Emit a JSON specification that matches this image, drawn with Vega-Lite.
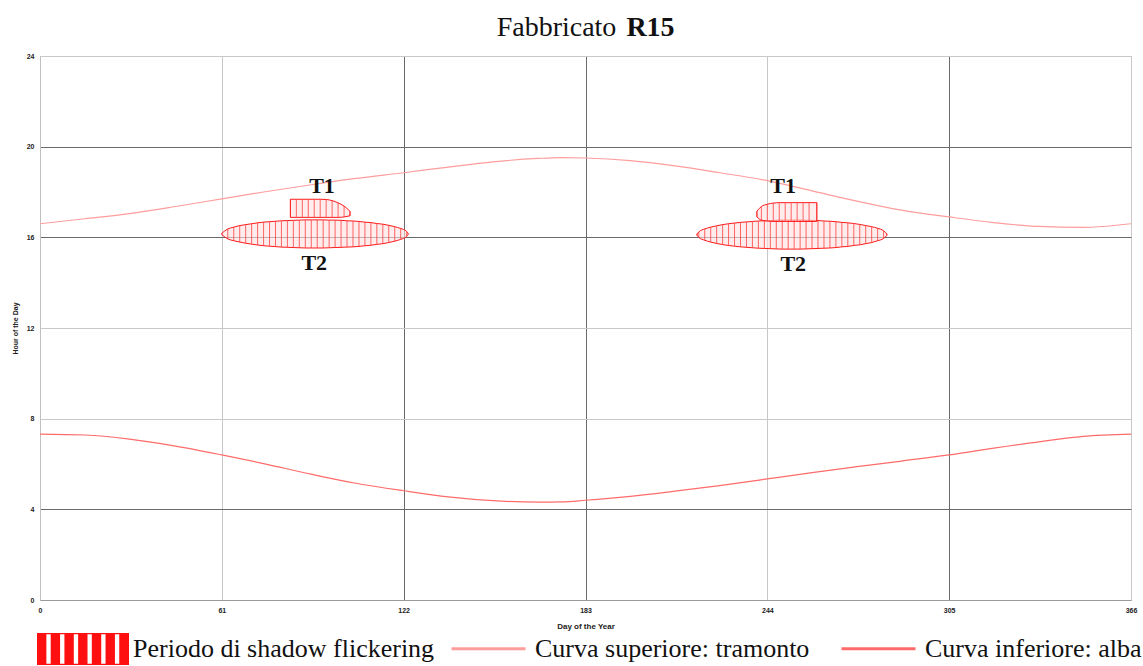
{
  "$schema": "https://vega.github.io/schema/vega-lite/v6.json",
  "width": 1091,
  "height": 544,
  "autosize": "none",
  "padding": {"left": 40, "top": 56, "right": 12, "bottom": 66},
  "background": "white",
  "title": {"text": "Fabbricato", "anchor": "middle", "frame": "group", "dx": -29, "font": "Liberation Serif", "fontSize": 28, "fontWeight": "normal", "color": "#111111", "baseline": "alphabetic", "offset": -51},
  "config": {
    "view": {"stroke": "#a8a8a8", "strokeWidth": 1},
    "legend": {"padding": 0, "titlePadding": 0}
  },
  "datasets": {
    "flicker": [
      {"shape": "L-T2", "day": 61, "start": 16.12, "end": 16.18},
      {"shape": "L-T2", "day": 63, "start": 15.93, "end": 16.37},
      {"shape": "L-T2", "day": 65, "start": 15.85, "end": 16.45},
      {"shape": "L-T2", "day": 67, "start": 15.79, "end": 16.52},
      {"shape": "L-T2", "day": 69, "start": 15.74, "end": 16.56},
      {"shape": "L-T2", "day": 71, "start": 15.70, "end": 16.60},
      {"shape": "L-T2", "day": 73, "start": 15.66, "end": 16.64},
      {"shape": "L-T2", "day": 75, "start": 15.63, "end": 16.67},
      {"shape": "L-T2", "day": 77, "start": 15.61, "end": 16.69},
      {"shape": "L-T2", "day": 79, "start": 15.59, "end": 16.71},
      {"shape": "L-T2", "day": 81, "start": 15.57, "end": 16.73},
      {"shape": "L-T2", "day": 83, "start": 15.56, "end": 16.74},
      {"shape": "L-T2", "day": 85, "start": 15.55, "end": 16.75},
      {"shape": "L-T2", "day": 87, "start": 15.54, "end": 16.76},
      {"shape": "L-T2", "day": 89, "start": 15.53, "end": 16.77},
      {"shape": "L-T2", "day": 91, "start": 15.53, "end": 16.77},
      {"shape": "L-T2", "day": 93, "start": 15.53, "end": 16.77},
      {"shape": "L-T2", "day": 95, "start": 15.53, "end": 16.77},
      {"shape": "L-T2", "day": 97, "start": 15.54, "end": 16.76},
      {"shape": "L-T2", "day": 99, "start": 15.55, "end": 16.76},
      {"shape": "L-T2", "day": 101, "start": 15.56, "end": 16.75},
      {"shape": "L-T2", "day": 103, "start": 15.57, "end": 16.73},
      {"shape": "L-T2", "day": 105, "start": 15.58, "end": 16.72},
      {"shape": "L-T2", "day": 107, "start": 15.60, "end": 16.70},
      {"shape": "L-T2", "day": 109, "start": 15.63, "end": 16.67},
      {"shape": "L-T2", "day": 111, "start": 15.65, "end": 16.65},
      {"shape": "L-T2", "day": 113, "start": 15.69, "end": 16.61},
      {"shape": "L-T2", "day": 115, "start": 15.72, "end": 16.58},
      {"shape": "L-T2", "day": 117, "start": 15.77, "end": 16.53},
      {"shape": "L-T2", "day": 119, "start": 15.83, "end": 16.47},
      {"shape": "L-T2", "day": 121, "start": 15.91, "end": 16.39},
      {"shape": "L-T2", "day": 123, "start": 16.04, "end": 16.26},
      {"shape": "L-T2", "day": 123.5, "start": 16.13, "end": 16.17},
      {"shape": "L-T1", "day": 84, "start": 16.88, "end": 17.68},
      {"shape": "L-T1", "day": 86, "start": 16.88, "end": 17.68},
      {"shape": "L-T1", "day": 88, "start": 16.88, "end": 17.68},
      {"shape": "L-T1", "day": 90, "start": 16.88, "end": 17.68},
      {"shape": "L-T1", "day": 92, "start": 16.88, "end": 17.68},
      {"shape": "L-T1", "day": 94, "start": 16.88, "end": 17.68},
      {"shape": "L-T1", "day": 96, "start": 16.88, "end": 17.67},
      {"shape": "L-T1", "day": 98, "start": 16.88, "end": 17.62},
      {"shape": "L-T1", "day": 100, "start": 16.88, "end": 17.52},
      {"shape": "L-T1", "day": 102, "start": 16.90, "end": 17.38},
      {"shape": "L-T1", "day": 104, "start": 16.95, "end": 17.15},
      {"shape": "R-T2", "day": 220.4, "start": 16.09, "end": 16.15},
      {"shape": "R-T2", "day": 221, "start": 16.00, "end": 16.24},
      {"shape": "R-T2", "day": 223, "start": 15.87, "end": 16.37},
      {"shape": "R-T2", "day": 225, "start": 15.79, "end": 16.45},
      {"shape": "R-T2", "day": 227, "start": 15.73, "end": 16.51},
      {"shape": "R-T2", "day": 229, "start": 15.68, "end": 16.56},
      {"shape": "R-T2", "day": 231, "start": 15.64, "end": 16.60},
      {"shape": "R-T2", "day": 233, "start": 15.61, "end": 16.63},
      {"shape": "R-T2", "day": 235, "start": 15.58, "end": 16.66},
      {"shape": "R-T2", "day": 237, "start": 15.56, "end": 16.68},
      {"shape": "R-T2", "day": 239, "start": 15.54, "end": 16.70},
      {"shape": "R-T2", "day": 241, "start": 15.52, "end": 16.72},
      {"shape": "R-T2", "day": 243, "start": 15.51, "end": 16.73},
      {"shape": "R-T2", "day": 245, "start": 15.50, "end": 16.74},
      {"shape": "R-T2", "day": 247, "start": 15.49, "end": 16.75},
      {"shape": "R-T2", "day": 249, "start": 15.48, "end": 16.76},
      {"shape": "R-T2", "day": 251, "start": 15.48, "end": 16.76},
      {"shape": "R-T2", "day": 253, "start": 15.48, "end": 16.76},
      {"shape": "R-T2", "day": 255, "start": 15.48, "end": 16.76},
      {"shape": "R-T2", "day": 257, "start": 15.49, "end": 16.75},
      {"shape": "R-T2", "day": 259, "start": 15.50, "end": 16.75},
      {"shape": "R-T2", "day": 261, "start": 15.51, "end": 16.74},
      {"shape": "R-T2", "day": 263, "start": 15.52, "end": 16.72},
      {"shape": "R-T2", "day": 265, "start": 15.53, "end": 16.71},
      {"shape": "R-T2", "day": 267, "start": 15.55, "end": 16.69},
      {"shape": "R-T2", "day": 269, "start": 15.58, "end": 16.66},
      {"shape": "R-T2", "day": 271, "start": 15.60, "end": 16.64},
      {"shape": "R-T2", "day": 273, "start": 15.64, "end": 16.61},
      {"shape": "R-T2", "day": 275, "start": 15.67, "end": 16.57},
      {"shape": "R-T2", "day": 277, "start": 15.72, "end": 16.52},
      {"shape": "R-T2", "day": 279, "start": 15.77, "end": 16.47},
      {"shape": "R-T2", "day": 281, "start": 15.85, "end": 16.40},
      {"shape": "R-T2", "day": 283, "start": 15.95, "end": 16.29},
      {"shape": "R-T2", "day": 284.1, "start": 16.09, "end": 16.15},
      {"shape": "R-T1", "day": 240.5, "start": 16.90, "end": 17.15},
      {"shape": "R-T1", "day": 242, "start": 16.76, "end": 17.36},
      {"shape": "R-T1", "day": 244, "start": 16.72, "end": 17.46},
      {"shape": "R-T1", "day": 246, "start": 16.70, "end": 17.51},
      {"shape": "R-T1", "day": 248, "start": 16.70, "end": 17.53},
      {"shape": "R-T1", "day": 250, "start": 16.70, "end": 17.53},
      {"shape": "R-T1", "day": 252, "start": 16.70, "end": 17.53},
      {"shape": "R-T1", "day": 254, "start": 16.70, "end": 17.53},
      {"shape": "R-T1", "day": 256, "start": 16.70, "end": 17.53},
      {"shape": "R-T1", "day": 258, "start": 16.70, "end": 17.53},
      {"shape": "R-T1", "day": 260.6, "start": 16.70, "end": 17.53}
    ],
    "curves": [
      {"curve": "Curva superiore: tramonto", "day": 0, "hour": 16.6},
      {"curve": "Curva superiore: tramonto", "day": 15, "hour": 16.82},
      {"curve": "Curva superiore: tramonto", "day": 30, "hour": 17.05},
      {"curve": "Curva superiore: tramonto", "day": 45, "hour": 17.35},
      {"curve": "Curva superiore: tramonto", "day": 61, "hour": 17.7},
      {"curve": "Curva superiore: tramonto", "day": 75, "hour": 18.0},
      {"curve": "Curva superiore: tramonto", "day": 91, "hour": 18.32},
      {"curve": "Curva superiore: tramonto", "day": 106, "hour": 18.6},
      {"curve": "Curva superiore: tramonto", "day": 122, "hour": 18.85},
      {"curve": "Curva superiore: tramonto", "day": 137, "hour": 19.1},
      {"curve": "Curva superiore: tramonto", "day": 152, "hour": 19.33},
      {"curve": "Curva superiore: tramonto", "day": 167, "hour": 19.48},
      {"curve": "Curva superiore: tramonto", "day": 175, "hour": 19.52},
      {"curve": "Curva superiore: tramonto", "day": 183, "hour": 19.5},
      {"curve": "Curva superiore: tramonto", "day": 198, "hour": 19.38},
      {"curve": "Curva superiore: tramonto", "day": 213, "hour": 19.15},
      {"curve": "Curva superiore: tramonto", "day": 228, "hour": 18.85},
      {"curve": "Curva superiore: tramonto", "day": 244, "hour": 18.5},
      {"curve": "Curva superiore: tramonto", "day": 259, "hour": 18.05},
      {"curve": "Curva superiore: tramonto", "day": 274, "hour": 17.6},
      {"curve": "Curva superiore: tramonto", "day": 289, "hour": 17.2},
      {"curve": "Curva superiore: tramonto", "day": 305, "hour": 16.9},
      {"curve": "Curva superiore: tramonto", "day": 320, "hour": 16.65},
      {"curve": "Curva superiore: tramonto", "day": 335, "hour": 16.48},
      {"curve": "Curva superiore: tramonto", "day": 350, "hour": 16.44},
      {"curve": "Curva superiore: tramonto", "day": 366, "hour": 16.6},
      {"curve": "Curva inferiore: alba", "day": 0, "hour": 7.32},
      {"curve": "Curva inferiore: alba", "day": 15, "hour": 7.28},
      {"curve": "Curva inferiore: alba", "day": 30, "hour": 7.1},
      {"curve": "Curva inferiore: alba", "day": 45, "hour": 6.8},
      {"curve": "Curva inferiore: alba", "day": 61, "hour": 6.4},
      {"curve": "Curva inferiore: alba", "day": 75, "hour": 6.02},
      {"curve": "Curva inferiore: alba", "day": 91, "hour": 5.55},
      {"curve": "Curva inferiore: alba", "day": 106, "hour": 5.15},
      {"curve": "Curva inferiore: alba", "day": 122, "hour": 4.82},
      {"curve": "Curva inferiore: alba", "day": 137, "hour": 4.55},
      {"curve": "Curva inferiore: alba", "day": 152, "hour": 4.38},
      {"curve": "Curva inferiore: alba", "day": 167, "hour": 4.32},
      {"curve": "Curva inferiore: alba", "day": 175, "hour": 4.33},
      {"curve": "Curva inferiore: alba", "day": 183, "hour": 4.4},
      {"curve": "Curva inferiore: alba", "day": 198, "hour": 4.57},
      {"curve": "Curva inferiore: alba", "day": 213, "hour": 4.8},
      {"curve": "Curva inferiore: alba", "day": 228, "hour": 5.05},
      {"curve": "Curva inferiore: alba", "day": 244, "hour": 5.34},
      {"curve": "Curva inferiore: alba", "day": 259, "hour": 5.62},
      {"curve": "Curva inferiore: alba", "day": 274, "hour": 5.88},
      {"curve": "Curva inferiore: alba", "day": 289, "hour": 6.13},
      {"curve": "Curva inferiore: alba", "day": 305, "hour": 6.4},
      {"curve": "Curva inferiore: alba", "day": 320, "hour": 6.7},
      {"curve": "Curva inferiore: alba", "day": 335, "hour": 6.98},
      {"curve": "Curva inferiore: alba", "day": 350, "hour": 7.22},
      {"curve": "Curva inferiore: alba", "day": 366, "hour": 7.32}
    ],
    "labels": [
      {"label": "T1", "day": 94.6, "hour": 18.26},
      {"label": "T2", "day": 92, "hour": 14.87},
      {"label": "T1", "day": 249.3, "hour": 18.26},
      {"label": "T2", "day": 252.7, "hour": 14.82}
    ]
  },
  "resolve": {"axis": {"x": "independent", "y": "independent"}},
  "layer": [
    {
      "data": {"name": "flicker"},
      "mark": {"type": "area", "fill": "#ffe0e0", "fillOpacity": 0.6, "stroke": "#ff1a1a", "strokeWidth": 1, "interpolate": "monotone"},
      "encoding": {
        "x": {"field": "day", "type": "quantitative", "axis": null, "scale": {"domain": [0, 366], "nice": false, "zero": false}},
        "y": {"field": "start", "type": "quantitative", "axis": null, "scale": {"domain": [0, 24], "nice": false}},
        "y2": {"field": "end"},
        "detail": {"field": "shape"}
      }
    },
    {
      "data": {"name": "flicker"},
      "mark": {"type": "rule", "color": "#ff2a2a", "strokeWidth": 1, "opacity": 0.7},
      "encoding": {
        "x": {"field": "day", "type": "quantitative", "axis": null, "scale": {"domain": [0, 366], "nice": false, "zero": false}},
        "y": {"field": "start", "type": "quantitative", "axis": null, "scale": {"domain": [0, 24], "nice": false}},
        "y2": {"field": "end"}
      }
    },
    {
      "data": {"name": "flicker"},
      "transform": [{"filter": "datum.day < 0"}],
      "mark": {"type": "point", "filled": true, "opacity": 1},
      "encoding": {
        "x": {"field": "day", "type": "quantitative", "axis": null, "scale": {"domain": [0, 366], "nice": false, "zero": false}},
        "y": {"field": "start", "type": "quantitative", "axis": null, "scale": {"domain": [0, 24], "nice": false}},
        "fill": {
          "datum": "Periodo di shadow flickering",
          "scale": {"domain": ["Periodo di shadow flickering"], "range": ["#ff1010"]},
          "legend": {
            "orient": "none", "legendX": -3, "legendY": 547, "title": null,
            "symbolType": "M-1,-0.35H1V-0.32H-1Z M-1,0.32H1V0.35H-1Z M-1,-0.35H-0.796V0.35H-1Z M-0.702,-0.35H-0.498V0.35H-0.702Z M-0.404,-0.35H-0.2V0.35H-0.404Z M-0.106,-0.35H0.098V0.35H-0.106Z M0.192,-0.35H0.396V0.35H0.192Z M0.49,-0.35H0.694V0.35H0.49Z M0.788,-0.35H1V0.35H0.788Z",
            "symbolSize": 8464, "symbolOpacity": 1, "symbolStrokeWidth": 0,
            "labelFont": "Liberation Serif", "labelFontSize": 26, "labelColor": "#111111", "labelOffset": 4, "labelLimit": 0
          }
        }
      }
    },
    {
      "data": {"name": "curves"},
      "mark": {"type": "line", "strokeWidth": 1.2, "interpolate": "monotone"},
      "encoding": {
        "x": {
          "field": "day", "type": "quantitative",
          "scale": {"domain": [0, 366], "nice": false, "zero": false},
          "axis": {
            "values": [0, 61, 122, 183, 244, 305, 366], "title": "Day of the Year",
            "grid": true,
            "gridColor": {"condition": {"test": "datum.value == 0 || datum.value == 61 || datum.value == 244 || datum.value == 366", "value": "#c8c8c8"}, "value": "#6a6a6a"},
            "ticks": false, "domainColor": "#9a9a9a", "labelFlush": false,
            "labelFont": "Liberation Sans", "labelFontSize": 7, "labelFontWeight": "bold", "labelColor": "#222222", "labelPadding": 6,
            "titleFont": "Liberation Sans", "titleFontSize": 8, "titleFontWeight": "bold", "titleColor": "#222222", "titlePadding": 9
          }
        },
        "y": {
          "field": "hour", "type": "quantitative",
          "scale": {"domain": [0, 24], "nice": false},
          "axis": {
            "values": [0, 4, 8, 12, 16, 20, 24], "title": "Hour of the Day",
            "grid": true,
            "gridColor": {"condition": {"test": "datum.value == 0 || datum.value == 8 || datum.value == 12 || datum.value == 24", "value": "#c8c8c8"}, "value": "#6a6a6a"},
            "ticks": false, "domainColor": "#c0c0c0", "labelFlush": false,
            "labelFont": "Liberation Sans", "labelFontSize": 7, "labelFontWeight": "bold", "labelColor": "#222222", "labelPadding": 6,
            "titleFont": "Liberation Sans", "titleFontSize": 7, "titleFontWeight": "bold", "titleColor": "#222222", "titlePadding": 8
          }
        },
        "stroke": {
          "field": "curve", "type": "nominal",
          "scale": {"domain": ["Curva superiore: tramonto", "Curva inferiore: alba"], "range": ["#ff9d9d", "#ff6b6b"]},
          "legend": {
            "orient": "none", "legendX": 410, "legendY": 554, "title": null, "direction": "horizontal", "columns": 2, "columnPadding": 25,
            "symbolType": "stroke", "symbolSize": 5476, "symbolStrokeWidth": 3,
            "labelFont": "Liberation Serif", "labelFontSize": 26, "labelColor": "#111111", "labelOffset": 8, "labelLimit": 0
          }
        }
      }
    },
    {
      "data": {"name": "labels"},
      "mark": {"type": "text", "font": "Liberation Serif", "fontSize": 22, "fontWeight": "bold", "color": "#111111", "baseline": "middle", "align": "center"},
      "encoding": {
        "x": {
          "field": "day", "type": "quantitative",
          "scale": {"domain": [0, 366], "nice": false, "zero": false},
          "axis": {"orient": "top", "labels": false, "ticks": false, "domain": false, "grid": false, "title": "R15",
            "titleFont": "Liberation Serif", "titleFontSize": 28, "titleFontWeight": "bold", "titleColor": "#111111",
            "titleX": 610, "titleY": -21, "titleBaseline": "alphabetic", "titleAlign": "center"}
        },
        "y": {"field": "hour", "type": "quantitative", "axis": null, "scale": {"domain": [0, 24], "nice": false}},
        "text": {"field": "label"}
      }
    }
  ]
}
